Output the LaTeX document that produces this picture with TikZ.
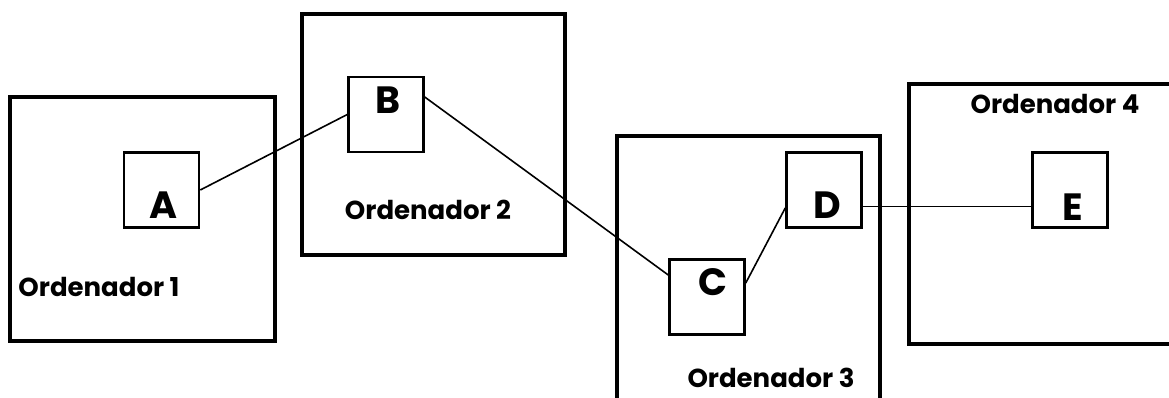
\documentclass[tikz,border=0pt]{standalone}
\usepackage{fontspec}
\setmainfont{Poppins}
\begin{document}
\begin{tikzpicture}[x=1pt,y=-1pt,
  host/.style={draw,line width=4pt,inner sep=0pt},
  proc/.style={draw,line width=2.5pt,minimum size=75pt,inner sep=0pt},
  letter/.style={font=\fontsize{38}{38}\selectfont\bfseries,inner sep=0pt},
  hostname/.style={font=\fontsize{26}{26}\selectfont\bfseries,inner sep=0pt},
  link/.style={line width=1.6pt}]
\useasboundingbox (0,0) rectangle (1169,397);
\clip (0,0) rectangle (1169,397);
% computers
\node[host,minimum width=265pt,minimum height=244pt] (ord1) at (142.5,219) {};
\node[host,minimum width=263pt,minimum height=241pt] (ord2) at (433.5,134.5) {};
\node[host,minimum width=263pt,minimum height=314pt] (ord3) at (748.5,293) {};
\node[host,minimum width=341pt,minimum height=260pt] (ord4) at (1079.5,214) {};
\node[hostname] (n1) at (99,287) {Ordenador 1};
\node[hostname] (n2) at (428,210) {Ordenador 2};
\node[hostname,anchor=base] (n3) at (771,387) {Ordenador 3};
\node[hostname] (n4) at (1055,104) {Ordenador 4};
% processes
\node[proc] (A) at (161.5,190) {};
\node[proc] (B) at (386,114.5) {};
\node[proc] (C) at (707,297) {};
\node[proc] (D) at (824,190) {};
\node[proc] (E) at (1070,190) {};
\node[letter] (lA) at (164,205) {A};
\node[letter] (lB) at (388,100) {B};
\node[letter] (lC) at (713,282) {C};
\node[letter] (lD) at (827,205) {D};
\node[letter] (lE) at (1073,207) {E};
% links
\draw[link] (A.east) -- (B.west);
\draw[link] ([yshift=17.5pt]B.east) -- ([yshift=22pt]C.west);
\draw[link] ([yshift=14pt]C.east) -- ([yshift=-18pt]D.west);
\draw[link] ([yshift=-16.5pt]D.east) -- ([yshift=-16.5pt]E.west);
\end{tikzpicture}
\end{document}
